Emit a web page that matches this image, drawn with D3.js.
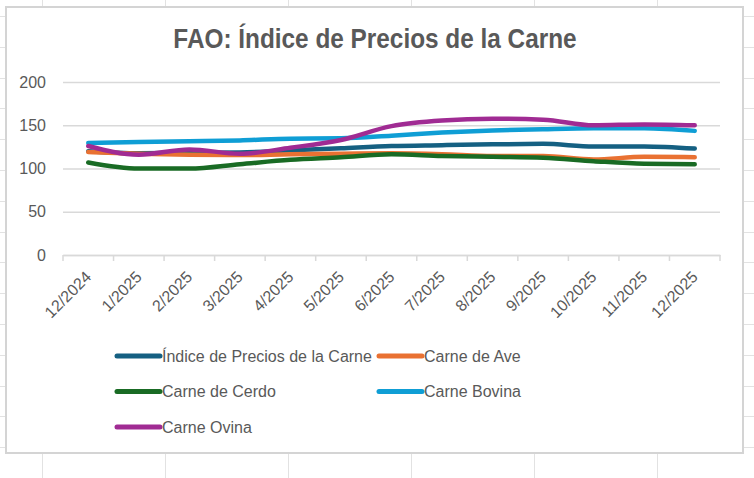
<!DOCTYPE html>
<html>
<head>
<meta charset="utf-8">
<script src="https://cdn.jsdelivr.net/npm/d3@7"></script>
<style>
  body { margin: 0; background: #ffffff; }
  svg { display: block; }
</style>
</head>
<body>
<div id="chart"></div>
<script>
//*******************************************************************//
//                    DATA
//*******************************************************************//

  var months = ["12/2024", "1/2025", "2/2025", "3/2025", "4/2025", "5/2025", "6/2025",
                "7/2025", "8/2025", "9/2025", "10/2025", "11/2025", "12/2025"];

  var indiceCarne = [120, 117.5, 118, 118.5, 121, 123.5, 126, 127, 128, 128.5, 125.5, 125.5, 123];
  var carneAve    = [119, 117, 116, 115.5, 116.5, 117, 117.5, 116.5, 114.5, 114.5, 110.5, 113.5, 113];
  var carneCerdo  = [107, 100, 100, 105, 110, 113, 116.5, 114.5, 113.5, 112.5, 108.5, 105.5, 105];
  var carneBovina = [129.5, 130.5, 131.5, 132.5, 134.5, 135, 138, 141.5, 144, 145.5, 146.5, 146.5, 143.5];
  var carneOvina  = [126, 116, 122, 117, 124, 133, 149, 155.5, 157.5, 156.5, 150, 151, 150];

  var seriesNames = ["Índice de Precios de la Carne", "Carne de Ave", "Carne de Cerdo",
                     "Carne Bovina", "Carne Ovina"];
  var seriesColors = ["#156082", "#e97132", "#196b24", "#0f9ed5", "#a02b93"];

  var yTicks = [0, 50, 100, 150, 200];

  var chartTitle = "FAO: Índice de Precios de la Carne";

  var series = [indiceCarne, carneAve, carneCerdo, carneBovina, carneOvina].map(function(vals, i) {
    return {name: seriesNames[i], color: seriesColors[i], values: vals};
  });

//*******************************************************************//
//                    LAYOUT
//*******************************************************************//

var W = 754, H = 478;
var plot = {left: 63, right: 720, top: 82, bottom: 255};
var textColor = "#595959";
var font = "'Liberation Sans', Arial, sans-serif";

var svg = d3.select("#chart")
  .append("svg")
    .attr("width", W)
    .attr("height", H);

// spreadsheet cells behind the chart
var colLines = [42, 165, 288, 411, 534, 657];
var rowLines = d3.range(0, 16).map(function(k) { return 16 + k * 30.8; });
svg.append("g").selectAll("line.col")
  .data(colLines).enter().append("line")
    .attr("x1", function(d) { return d + 0.5; })
    .attr("x2", function(d) { return d + 0.5; })
    .attr("y1", 0).attr("y2", H)
    .attr("stroke", "#e2e2e2");
svg.append("g").selectAll("line.row")
  .data(rowLines).enter().append("line")
    .attr("x1", 0).attr("x2", W)
    .attr("y1", function(d) { return Math.round(d) + 0.5; })
    .attr("y2", function(d) { return Math.round(d) + 0.5; })
    .attr("stroke", "#e2e2e2");

// chart area
svg.append("rect")
   .attr("x", 6).attr("y", 7)
   .attr("width", 737).attr("height", 446)
   .attr("fill", "#ffffff")
   .attr("stroke", "#d4d4d4")
   .attr("stroke-width", 2);

// title (narrow bold look: squeeze the regular bold face)
svg.append("text")
   .attr("transform", "translate(375,48) scale(0.87,1)")
   .attr("text-anchor", "middle")
   .style("font-family", font)
   .style("font-weight", "bold")
   .style("font-size", "28px")
   .style("fill", textColor)
   .text(chartTitle);

// scales
var x = d3.scaleBand()
  .domain(months)
  .range([plot.left, plot.right]);

var y = d3.scaleLinear()
  .domain([0, 200])
  .range([plot.bottom, plot.top]);

// gridlines + y labels
var yAxis = svg.append("g")
  .attr("transform", "translate(" + plot.left + ",0)")
  .call(d3.axisLeft(y).tickValues(yTicks).tickSize(-(plot.right - plot.left)).tickPadding(17));
yAxis.select(".domain").remove();
yAxis.selectAll(".tick line").attr("stroke", "#d9d9d9").attr("stroke-width", 1.5);
yAxis.selectAll(".tick text")
  .style("font-family", font)
  .style("font-size", "16px")
  .style("fill", textColor);

// x axis
var xAxis = svg.append("g")
  .attr("transform", "translate(0," + plot.bottom + ")")
  .call(d3.axisBottom(x).tickSize(0));
xAxis.select(".domain").attr("stroke", "#d9d9d9").attr("stroke-width", 1.5);
xAxis.selectAll(".tick text")
  .attr("y", 0).attr("dy", 0)
  .attr("text-anchor", "end")
  .attr("transform", "translate(4,23) rotate(-45)")
  .style("font-family", font)
  .style("font-size", "16px")
  .style("fill", textColor);

// tick marks at the category borders
var borders = months.map(function(m) { return x(m); }).concat([plot.right]);
svg.append("g").selectAll("line")
  .data(borders).enter().append("line")
    .attr("x1", function(d) { return d; })
    .attr("x2", function(d) { return d; })
    .attr("y1", plot.bottom)
    .attr("y2", plot.bottom + 6)
    .attr("stroke", "#d9d9d9")
    .attr("stroke-width", 1.5);

// lines
var line = d3.line()
  .x(function(d, i) { return x(months[i]) + x.bandwidth() / 2; })
  .y(function(d) { return y(d); })
  .curve(d3.curveMonotoneX);

svg.append("g").selectAll("path")
  .data(series).enter().append("path")
    .attr("d", function(d) { return line(d.values); })
    .attr("fill", "none")
    .attr("stroke", function(d) { return d.color; })
    .attr("stroke-width", 4.5)
    .attr("stroke-linecap", "round")
    .attr("stroke-linejoin", "round");

// legend (2 columns)
var legCols = [117, 379];
var legRows = [356, 391.5, 427];
var legend = svg.append("g").selectAll("g")
  .data(series).enter().append("g")
    .attr("transform", function(d, i) {
      return "translate(" + legCols[i % 2] + "," + legRows[Math.floor(i / 2)] + ")";
    });
legend.append("line")
  .attr("x1", 0).attr("x2", 43)
  .attr("y1", 0).attr("y2", 0)
  .attr("stroke", function(d) { return d.color; })
  .attr("stroke-width", 5)
  .attr("stroke-linecap", "round");
legend.append("text")
  .attr("x", 45)
  .attr("y", 0)
  .attr("dy", "0.36em")
  .style("font-family", font)
  .style("font-size", "16px")
  .style("fill", textColor)
  .text(function(d) { return d.name; });
</script>
</body>
</html>
